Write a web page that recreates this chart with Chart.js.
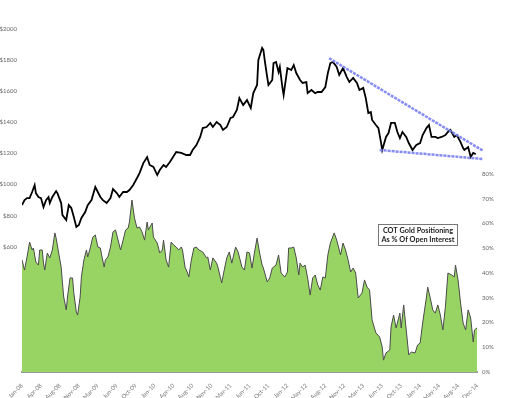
<!DOCTYPE html>
<html>
<head>
<meta charset="utf-8">
<script src="https://cdn.jsdelivr.net/npm/chart.js@4"></script>
<style>
  html, body { margin: 0; padding: 0; background: #fff; }
</style>
</head>
<body>
<canvas id="myChart" width="508" height="398"></canvas>
<script>
// weekly data, week 0 = first week of Jan 2008
var tickLabels = ["Jan-08","Apr-08","Aug-08","Nov-08","Mar-09","Jun-09","Oct-09","Jan-10","Apr-10","Aug-10","Nov-10","Mar-11","Jun-11","Oct-11","Jan-12","May-12","Aug-12","Nov-12","Mar-13","Jun-13","Oct-13","Jan-14","May-14","Aug-14","Dec-14"];

var priceTicks = [600, 800, 1000, 1200, 1400, 1600, 1800, 2000];
var cotTicks = [0, 10, 20, 30, 40, 50, 60, 70, 80];

// gold price ($)
var priceWeeks = [0,2,4,6,8,10,11,13,15,17,19,21,22,24,27,28,31,32,35,37,39,41,43,45,47,50,52,55,58,60,62,64,67,70,72,75,77,80,83,85,88,91,93,96,99,101,104,107,109,112,114,117,119,122,126,130,133,135,138,141,143,146,149,151,154,157,159,162,165,167,170,172,175,178,181,183,186,187,190,191,192,194,195,198,199,201,203,204,206,207,209,210,213,215,217,220,222,225,226,229,232,234,237,240,242,244,246,249,251,254,257,259,262,265,267,270,272,274,276,277,280,282,284,285,288,290,292,295,297,299,301,304,306,309,312,315,317,320,322,324,327,329,332,335,337,339,342,344,347,349,350,353,355,357,359];
var priceValues = [868,900,913,913,952,997,945,920,913,855,900,920,881,920,958,945,881,804,772,868,849,791,727,740,785,823,868,900,984,952,920,900,881,913,971,945,920,952,952,965,997,1042,1074,1138,1177,1126,1113,1061,1093,1126,1113,1145,1171,1209,1203,1190,1190,1222,1254,1306,1363,1370,1396,1370,1402,1383,1351,1370,1428,1434,1479,1556,1511,1543,1492,1588,1640,1801,1878,1865,1801,1691,1640,1672,1781,1788,1723,1756,1627,1576,1691,1749,1736,1768,1717,1672,1653,1659,1588,1608,1588,1595,1595,1627,1717,1781,1788,1756,1704,1749,1691,1659,1685,1653,1608,1621,1556,1460,1466,1415,1383,1363,1273,1222,1306,1331,1396,1396,1338,1299,1338,1306,1267,1222,1254,1267,1318,1363,1383,1306,1306,1299,1306,1318,1338,1351,1306,1318,1273,1235,1222,1241,1177,1203,1196];

// COT positioning as % of open interest
var cotWeeks = [0,2,4,6,8,9,11,13,14,16,17,18,20,22,24,26,27,29,31,32,33,35,36,38,40,41,43,44,46,47,49,51,52,54,56,58,60,62,63,65,66,68,70,72,74,76,78,80,82,84,85,87,89,91,93,95,97,99,100,103,104,107,109,111,112,114,116,118,120,122,124,126,127,129,131,132,134,136,138,140,143,146,147,149,151,154,155,158,160,162,164,166,169,171,174,176,178,180,182,184,186,188,190,191,194,196,198,201,203,205,208,210,211,213,215,217,219,220,222,224,226,228,230,232,234,236,238,240,242,244,247,249,252,254,256,258,260,262,264,266,269,271,273,275,277,280,283,285,286,288,291,292,294,296,299,300,302,304,306,308,311,313,315,317,320,321,323,325,327,329,331,333,335,337,340,342,343,345,347,349,351,353,355,357,358,360];
var cotValues = [45.3,41.2,46.5,52.5,49.3,50.1,44.4,43.2,49.3,49.3,44.0,41.2,48.1,46.1,49.3,56.2,54.1,48.1,42.4,36.0,30.3,25.1,30.3,38.0,38.0,31.9,24.2,23.0,30.3,38.4,45.3,49.3,46.5,50.1,54.5,55.4,50.5,50.1,47.3,42.4,45.3,46.5,50.5,56.6,57.4,53.3,49.3,53.3,57.4,58.2,60.6,69.5,62.2,58.2,58.6,56.6,53.3,60.6,57.4,60.2,54.5,52.1,48.1,49.3,53.3,45.3,42.4,52.5,51.3,50.5,49.3,50.5,49.3,42.4,40.0,38.4,45.3,50.1,50.5,49.3,48.5,46.1,46.5,41.2,46.1,44.0,42.4,36.0,41.2,46.1,48.5,44.0,50.5,48.5,42.4,41.2,48.5,48.1,42.0,48.5,54.1,48.1,43.2,42.0,36.4,38.0,42.0,43.2,47.3,40.0,38.4,40.4,50.1,50.1,50.5,46.1,39.2,44.0,42.4,43.2,38.0,31.1,38.0,39.2,35.2,33.1,38.4,38.0,47.3,52.1,56.2,53.3,47.3,52.1,49.3,45.3,40.4,42.0,40.0,29.9,31.9,37.2,34.3,33.1,21.0,15.8,14.1,10.1,4.8,7.7,8.9,18.2,23.0,17.8,23.8,17.8,27.1,17.0,6.9,8.1,7.7,10.9,11.7,19.8,30.3,34.3,29.9,25.1,23.8,27.1,23.0,17.0,26.3,40.0,39.2,38.4,43.2,37.2,27.9,19.8,17.0,25.1,21.8,12.1,17.0,17.8];

// wedge lines drawn on the price chart
var upperTrendWeeks = [243, 365];
var upperTrendValues = [1812, 1216];
var lowerTrendWeeks = [283, 365];
var lowerTrendValues = [1222, 1164];

function toPoints(xs, ys) {
    return xs.map(function (x, i) { return { x: x, y: ys[i] }; });
}

function trendSet(label, xs, ys) {
    return {
        label: label,
        data: toPoints(xs, ys),
        yAxisID: 'yPrice',
        borderColor: 'rgba(120,128,242,0.9)',
        borderWidth: 2.5,
        borderDash: [3, 1],
        pointRadius: 0,
        clip: false,
        order: 0
    };
}

var labelBox = {
    id: 'labelBox',
    afterDraw: function (chart) {
        var c = chart.ctx;
        c.save();
        c.strokeStyle = '#777';
        c.lineWidth = 1;
        c.fillStyle = '#fff';
        c.fillRect(378.5, 224.5, 79, 21);
        c.strokeRect(378.5, 224.5, 79, 21);
        c.fillStyle = '#222';
        c.font = 'bold 7.3px Lato';
        c.textAlign = 'center';
        c.textBaseline = 'middle';
        c.fillText('COT Gold Positioning', 418, 230.5);
        c.fillText('As % Of Open Interest', 418, 239.5);
        c.restore();
    }
};

var ctx = document.getElementById('myChart').getContext('2d');
var chart = new Chart(ctx, {
    type: 'line',
    data: {
        datasets: [
            trendSet('Upper trend', upperTrendWeeks, upperTrendValues),
            trendSet('Lower trend', lowerTrendWeeks, lowerTrendValues),
        {
            label: 'Gold',
            data: toPoints(priceWeeks, priceValues),
            yAxisID: 'yPrice',
            borderColor: '#000',
            borderWidth: 1.8,
            pointRadius: 0,
            tension: 0,
            order: 1
        }, {
            label: 'COT',
            data: toPoints(cotWeeks, cotValues),
            yAxisID: 'yCot',
            borderColor: '#4a4a4a',
            borderWidth: 1,
            backgroundColor: '#98d463',
            fill: 'origin',
            pointRadius: 0,
            tension: 0,
            order: 2
        }]
    },
    options: {
        responsive: false,
        animation: false,
        devicePixelRatio: 1,
        layout: { padding: { top: 29, left: 0, right: 0, bottom: 0 } },
        plugins: { legend: { display: false }, tooltip: { enabled: false } },
        scales: {
            x: {
                type: 'linear',
                min: 0,
                max: 360,
                afterFit: function (s) { s.height = 26; },
                grid: { display: false },
                border: { color: '#9a9a9a', width: 2 },
                ticks: {
                    stepSize: 15,
                    autoSkip: false,
                    maxRotation: 45,
                    minRotation: 45,
                    padding: 2,
                    color: '#777',
                    font: { family: 'Lato', size: 6 },
                    callback: function (v) { return tickLabels[v / 15]; }
                }
            },
            yPrice: {
                position: 'left',
                min: -205,
                max: 2000,
                afterBuildTicks: function (s) {
                    s.ticks = priceTicks.map(function (v) { return { value: v }; });
                },
                afterFit: function (s) { s.width = 22; },
                grid: { display: false, drawTicks: false },
                border: { display: false },
                ticks: {
                    padding: 5,
                    color: '#666',
                    font: { family: 'Lato', size: 6 },
                    callback: function (v) { return '$' + v; }
                }
            },
            yCot: {
                position: 'right',
                min: 0,
                max: 138.6,
                afterBuildTicks: function (s) {
                    s.ticks = cotTicks.map(function (v) { return { value: v }; });
                },
                afterFit: function (s) { s.width = 31; },
                grid: { display: false, drawTicks: false },
                border: { display: false },
                ticks: {
                    padding: 5,
                    color: '#666',
                    font: { family: 'Lato', size: 6 },
                    callback: function (v) { return v + '%'; }
                }
            }
        }
    },
    plugins: [labelBox]
});
</script>
</body>
</html>
